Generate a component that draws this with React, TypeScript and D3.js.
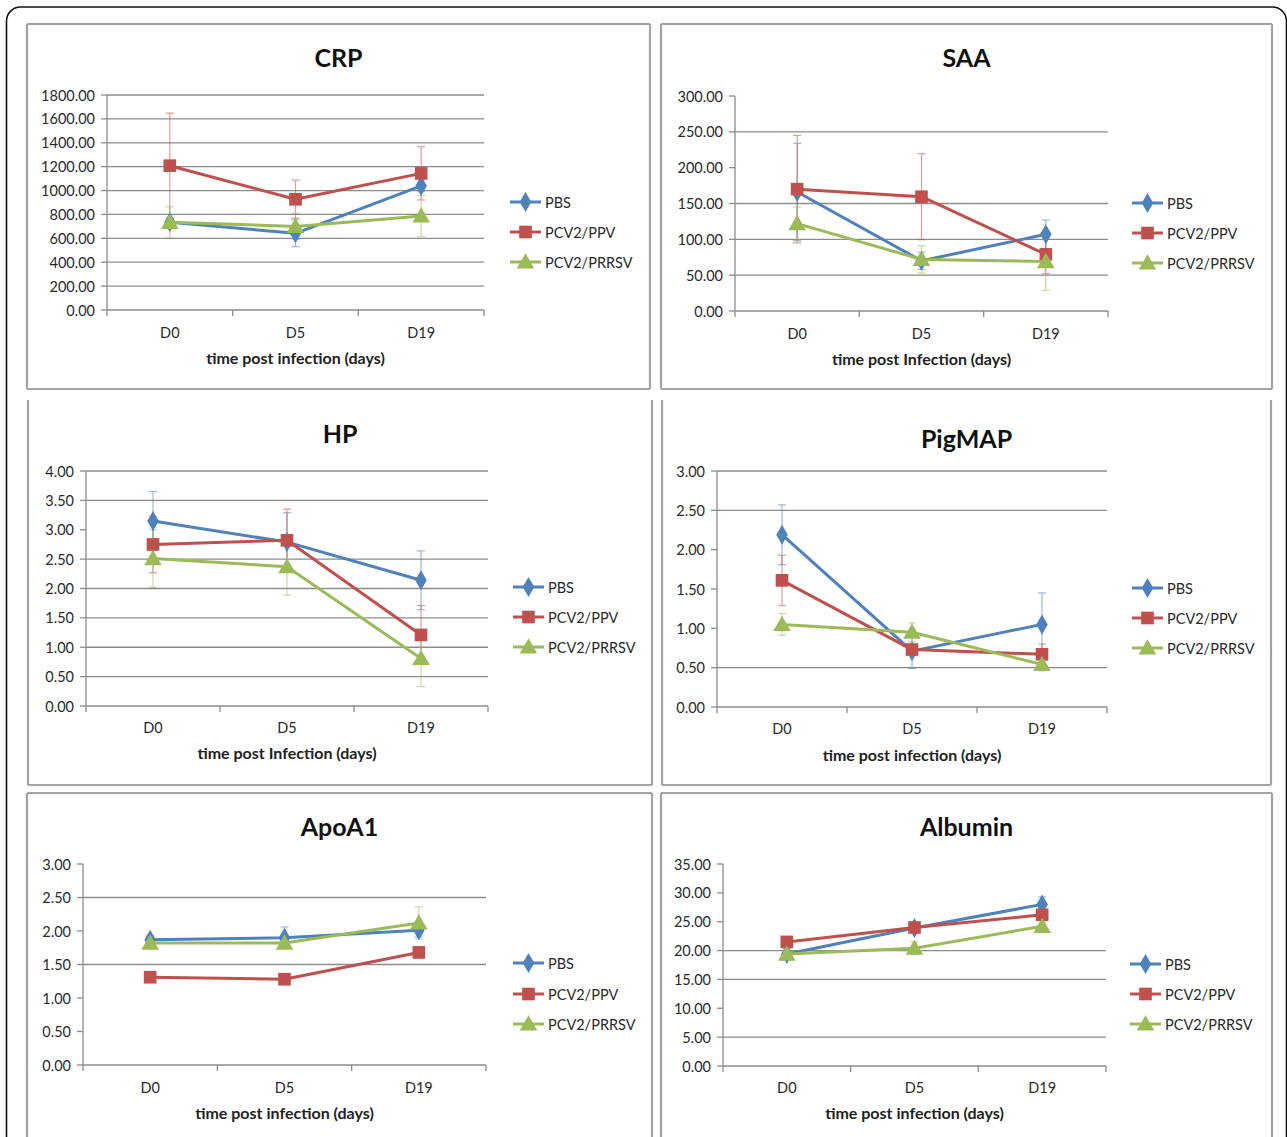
import React from "react";
import * as d3 from "d3";

// Sampling days and treatment groups shared by all six panels
const categories = ["D0", "D5", "D19"];
const seriesNames = ["PBS", "PCV2/PPV", "PCV2/PRRSV"];
const seriesColors = ["#4F81BD", "#C0504D", "#9BBB59"];

// CRP
const crpPBS = [735, 642, 1040];
const crpPBSErr = [30, 112, 50];
const crpPPV = [1208, 927, 1144];
const crpPPVErr = [440, 160, 223];
const crpPRRSV = [734, 700, 787];
const crpPRRSVErr = [130, 109, 173];

// SAA
const saaPBS = [166, 70, 107];
const saaPBSErr = [68, 12, 20];
const saaPPV = [170, 159.5, 79];
const saaPPVErr = [75, 60, 27];
const saaPRRSV = [122, 72, 69];
const saaPRRSVErr = [23, 19, 40];

// HP
const hpPBS = [3.15, 2.79, 2.14];
const hpPBSErr = [0.5, 0.5, 0.5];
const hpPPV = [2.75, 2.82, 1.21];
const hpPPVErr = [0.48, 0.53, 0.5];
const hpPRRSV = [2.51, 2.37, 0.81];
const hpPRRSVErr = [0.49, 0.48, 0.48];

// PigMAP
const pigmapPBS = [2.19, 0.71, 1.05];
const pigmapPBSErr = [0.38, 0.22, 0.4];
const pigmapPPV = [1.61, 0.73, 0.67];
const pigmapPPVErr = [0.32, 0.06, 0.13];
const pigmapPRRSV = [1.05, 0.95, 0.54];
const pigmapPRRSVErr = [0.14, 0.12, 0.08];

// ApoA1
const apoPBS = [1.87, 1.9, 2.01];
const apoPBSErr = [0.06, 0.16, 0.1];
const apoPPV = [1.31, 1.28, 1.68];
const apoPPVErr = [0.04, 0.04, 0.08];
const apoPRRSV = [1.82, 1.82, 2.12];
const apoPRRSVErr = [0.04, 0.04, 0.24];

// Albumin
const albPBS = [19.4, 23.9, 28.0];
const albPBSErr = [1.0, 0.6, 1.3];
const albPPV = [21.5, 24.0, 26.2];
const albPPVErr = [0.5, 0.8, 0.6];
const albPRRSV = [19.4, 20.4, 24.2];
const albPRRSVErr = [0.5, 1.1, 0.6];

// Y axis ranges, tick steps and the gridlines that are drawn
const crpAxis = { max: 1800, step: 200, grid: [200, 400, 600, 800, 1000, 1200, 1400, 1600, 1800] };
const saaAxis = { max: 300, step: 50, grid: [50, 100, 150, 250] };
const hpAxis = { max: 4, step: 0.5, grid: [0.5, 1, 1.5, 2, 2.5, 3.5, 4] };
const pigmapAxis = { max: 3, step: 0.5, grid: [0.5, 2.5, 3] };
const apoAxis = { max: 3, step: 0.5, grid: [1.5, 2.5] };
const albAxis = { max: 35, step: 5, grid: [5, 15, 20] };

const FONT = "Lato, 'Open Sans', 'DejaVu Sans', sans-serif";

type Series = { values: number[]; errors: number[] };

type PanelLayout = {
  frame: { x0: number; y0: number; x1: number; y1: number; top: boolean };
  plot: { x0: number; x1: number; yTop: number; yBot: number };
  titleY: number;
  legend: { x: number; y: number[] };
  catLabelY: number;
  axisTitleY: number;
};

type PanelProps = {
  title: string;
  axisTitle: string;
  series: Series[];
  axis: { max: number; step: number; grid: number[] };
  layout: PanelLayout;
};

const symbolTypes = [d3.symbolDiamond, d3.symbolSquare, d3.symbolTriangle];
const symbolSizes = [115, 160, 135];

function Marker({ i, x, y }: { i: number; x: number; y: number }) {
  const path = d3.symbol().type(symbolTypes[i]).size(symbolSizes[i])() as string;
  const dy = i === 2 ? 1.5 : 0;
  return <path d={path} transform={`translate(${x},${y + dy})`} fill={seriesColors[i]} />;
}

function Panel({ title, axisTitle, series, axis, layout }: PanelProps) {
  const { frame, plot } = layout;
  const x = d3.scaleBand<string>().domain(categories).range([plot.x0, plot.x1]);
  const y = d3.scaleLinear().domain([0, axis.max]).range([plot.yBot, plot.yTop]);
  const ticks = d3.range(0, axis.max + axis.step / 2, axis.step);
  const cx = (c: string) => (x(c) as number) + x.bandwidth() / 2;
  const line = d3
    .line<number>()
    .x((_, k) => cx(categories[k]))
    .y((v) => y(v));
  const frameColor = "#a3a3a3";
  const gridColor = "#8c8c8c";
  const titleX = (frame.x0 + frame.x1) / 2;
  const plotMid = (plot.x0 + plot.x1) / 2;

  return (
    <g>
      {/* panel frame */}
      <g stroke={frameColor} strokeWidth={2.2} fill="none">
        {frame.top && <line x1={frame.x0} x2={frame.x1} y1={frame.y0} y2={frame.y0} />}
        <line x1={frame.x0} x2={frame.x0} y1={frame.y0} y2={frame.y1} />
        <line x1={frame.x1} x2={frame.x1} y1={frame.y0} y2={frame.y1} />
        {frame.y1 < 1137 && <line x1={frame.x0} x2={frame.x1} y1={frame.y1} y2={frame.y1} />}
      </g>

      <text
        x={titleX}
        y={layout.titleY}
        textAnchor="middle"
        dominantBaseline="central"
        fontFamily={FONT}
        fontWeight={700}
        fontSize={25}
        fill="#111"
      >
        {title}
      </text>

      {/* gridlines */}
      {axis.grid.map((g) => (
        <line key={g} x1={plot.x0} x2={plot.x1} y1={y(g)} y2={y(g)} stroke={gridColor} strokeWidth={1.3} />
      ))}

      {/* y axis */}
      <line x1={plot.x0} x2={plot.x0} y1={plot.yTop} y2={plot.yBot} stroke={gridColor} strokeWidth={1.3} />
      {ticks.map((t) => (
        <g key={t}>
          <line x1={plot.x0 - 6} x2={plot.x0} y1={y(t)} y2={y(t)} stroke={gridColor} strokeWidth={1.3} />
          <text
            x={plot.x0 - 12}
            y={y(t)}
            textAnchor="end"
            dominantBaseline="central"
            fontFamily={FONT}
            fontSize={14.5}
            fill="#2a2a2a"
          >
            {t.toFixed(2)}
          </text>
        </g>
      ))}

      {/* x axis */}
      <line x1={plot.x0} x2={plot.x1} y1={plot.yBot} y2={plot.yBot} stroke={gridColor} strokeWidth={1.3} />
      {[...categories.map((c) => x(c) as number), plot.x1].map((bx, k) => (
        <line key={k} x1={bx} x2={bx} y1={plot.yBot} y2={plot.yBot + 6} stroke={gridColor} strokeWidth={1.3} />
      ))}
      {categories.map((c) => (
        <text
          key={c}
          x={cx(c)}
          y={layout.catLabelY}
          textAnchor="middle"
          dominantBaseline="central"
          fontFamily={FONT}
          fontSize={14.5}
          fill="#2a2a2a"
        >
          {c}
        </text>
      ))}
      <text
        x={plotMid}
        y={layout.axisTitleY}
        textAnchor="middle"
        dominantBaseline="central"
        fontFamily={FONT}
        fontWeight={700}
        fontSize={16}
        fill="#222"
      >
        {axisTitle}
      </text>

      {/* error bars */}
      {series.map((s, i) =>
        s.values.map((v, k) => {
          const px = cx(categories[k]);
          const lo = y(v - s.errors[k]);
          const hi = y(v + s.errors[k]);
          return (
            <g key={`${i}-${k}`} stroke={seriesColors[i]} strokeWidth={1.2} opacity={0.55}>
              <line x1={px} x2={px} y1={lo} y2={hi} />
              <line x1={px - 4} x2={px + 4} y1={lo} y2={lo} />
              <line x1={px - 4} x2={px + 4} y1={hi} y2={hi} />
            </g>
          );
        })
      )}

      {/* series lines and markers */}
      {series.map((s, i) => (
        <g key={i}>
          <path d={line(s.values) as string} fill="none" stroke={seriesColors[i]} strokeWidth={3} strokeLinejoin="round" />
          {s.values.map((v, k) => (
            <Marker key={k} i={i} x={cx(categories[k])} y={y(v)} />
          ))}
        </g>
      ))}

      {/* legend */}
      {seriesNames.map((name, i) => {
        const ly = layout.legend.y[i];
        const lx = layout.legend.x;
        return (
          <g key={name}>
            <line x1={lx} x2={lx + 31} y1={ly} y2={ly} stroke={seriesColors[i]} strokeWidth={3} />
            <Marker i={i} x={lx + 15.5} y={ly} />
            <text x={lx + 35} y={ly} dominantBaseline="central" fontFamily={FONT} fontSize={14.5} fill="#2a2a2a">
              {name}
            </text>
          </g>
        );
      })}
    </g>
  );
}

const mk = (values: number[], errors: number[]): Series => ({ values, errors });

const panels: PanelProps[] = [
  {
    title: "CRP",
    axisTitle: "time post infection (days)",
    series: [mk(crpPBS, crpPBSErr), mk(crpPPV, crpPPVErr), mk(crpPRRSV, crpPRRSVErr)],
    axis: crpAxis,
    layout: {
      frame: { x0: 27, y0: 24, x1: 650, y1: 389, top: true },
      plot: { x0: 107, x1: 484, yTop: 95, yBot: 310 },
      titleY: 57,
      legend: { x: 510, y: [202, 232, 262] },
      catLabelY: 332,
      axisTitleY: 357,
    },
  },
  {
    title: "SAA",
    axisTitle: "time post Infection (days)",
    series: [mk(saaPBS, saaPBSErr), mk(saaPPV, saaPPVErr), mk(saaPRRSV, saaPRRSVErr)],
    axis: saaAxis,
    layout: {
      frame: { x0: 661, y0: 24, x1: 1272, y1: 389, top: true },
      plot: { x0: 735, x1: 1108, yTop: 96, yBot: 311 },
      titleY: 57,
      legend: { x: 1132, y: [203, 233, 263] },
      catLabelY: 333,
      axisTitleY: 358,
    },
  },
  {
    title: "HP",
    axisTitle: "time post Infection (days)",
    series: [mk(hpPBS, hpPBSErr), mk(hpPPV, hpPPVErr), mk(hpPRRSV, hpPRRSVErr)],
    axis: hpAxis,
    layout: {
      frame: { x0: 28, y0: 400, x1: 652, y1: 785, top: false },
      plot: { x0: 86, x1: 488, yTop: 471, yBot: 706 },
      titleY: 433,
      legend: { x: 513, y: [587, 617, 647] },
      catLabelY: 727,
      axisTitleY: 752,
    },
  },
  {
    title: "PigMAP",
    axisTitle: "time post infection (days)",
    series: [mk(pigmapPBS, pigmapPBSErr), mk(pigmapPPV, pigmapPPVErr), mk(pigmapPRRSV, pigmapPRRSVErr)],
    axis: pigmapAxis,
    layout: {
      frame: { x0: 662, y0: 400, x1: 1271, y1: 785, top: false },
      plot: { x0: 717, x1: 1107, yTop: 471, yBot: 707 },
      titleY: 438,
      legend: { x: 1132, y: [588, 618, 648] },
      catLabelY: 728,
      axisTitleY: 754,
    },
  },
  {
    title: "ApoA1",
    axisTitle: "time post infection (days)",
    series: [mk(apoPBS, apoPBSErr), mk(apoPPV, apoPPVErr), mk(apoPRRSV, apoPRRSVErr)],
    axis: apoAxis,
    layout: {
      frame: { x0: 27, y0: 793, x1: 652, y1: 1150, top: true },
      plot: { x0: 83, x1: 486, yTop: 864, yBot: 1065 },
      titleY: 826,
      legend: { x: 513, y: [963, 994, 1024] },
      catLabelY: 1087,
      axisTitleY: 1112,
    },
  },
  {
    title: "Albumin",
    axisTitle: "time post infection (days)",
    series: [mk(albPBS, albPBSErr), mk(albPPV, albPPVErr), mk(albPRRSV, albPRRSVErr)],
    axis: albAxis,
    layout: {
      frame: { x0: 661, y0: 793, x1: 1272, y1: 1150, top: true },
      plot: { x0: 723, x1: 1106, yTop: 864, yBot: 1066 },
      titleY: 826,
      legend: { x: 1130, y: [964, 994, 1024] },
      catLabelY: 1087,
      axisTitleY: 1112,
    },
  },
];

export default function App() {
  return (
    <svg
      width={1287}
      height={1137}
      viewBox="0 0 1287 1137"
      style={{ position: "absolute", left: 0, top: 0, background: "#fff" }}
    >
      <rect x={0} y={0} width={1287} height={1137} fill="#fff" />
      {/* outer rounded border */}
      <rect x={6.5} y={7} width={1280} height={1160} rx={14} ry={14} fill="none" stroke="#111" strokeWidth={1.6} />
      {panels.map((p) => (
        <Panel key={p.title} {...p} />
      ))}
    </svg>
  );
}
